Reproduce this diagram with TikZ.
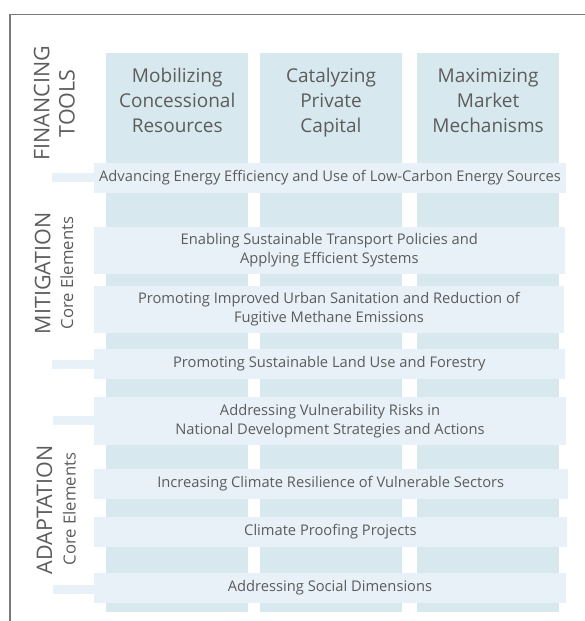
\documentclass[tikz,border=0pt]{standalone}
\usepackage{fontspec}
\setmainfont{Open Sans}
\definecolor{colfill}{HTML}{D8E8EF}
\definecolor{rowfill}{HTML}{E7F1F7}
\definecolor{txt}{HTML}{5C5C5C}
\definecolor{frame}{HTML}{7A7A7A}
\begin{document}
\begin{tikzpicture}[x=1pt,y=-1pt,
  col/.style={fill=colfill},
  stubfill/.style={fill=rowfill},
  band/.style={fill=rowfill, draw=none, rectangle, inner sep=0pt, text=txt,
    font=\fontsize{14.7}{19.5}\selectfont, align=center},
  head/.style={text=txt, font=\fontsize{19}{25}\selectfont, anchor=base, inner sep=0pt},
  side/.style={text=txt, font=\fontsize{21.5}{25}\selectfont, rotate=90, anchor=base, inner sep=0pt},
  sublabel/.style={text=txt, font=\fontsize{16.7}{20}\selectfont, rotate=90, anchor=base, inner sep=0pt},
  frameline/.style={draw=frame, line width=1.2pt}]
\useasboundingbox (0,0) rectangle (585,621);
% frame
\draw[frameline] (10,621) -- (10,14.5) -- (586,14.5);
% columns
\fill[col] (106.3,52.7) rectangle (248.1,611.5);
\fill[col] (260.1,52.7) rectangle (401.9,611.5);
\fill[col] (417.2,52.7) rectangle (559.0,611.5);
% column headers
\node[head] (h1) at (177.2,82.7) {\begin{tabular}[t]{@{}c@{}}Mobilizing\\Concessional\\Resources\end{tabular}};
\node[head] (h2) at (331.0,82.7) {\begin{tabular}[t]{@{}c@{}}Catalyzing\\Private\\Capital\end{tabular}};
\node[head] (h3) at (488.1,82.7) {\begin{tabular}[t]{@{}c@{}}Maximizing\\Market\\Mechanisms\end{tabular}};
% stubs
\fill[stubfill] (51.5,173.3) rectangle (95,182.3);
\fill[stubfill] (51.5,360) rectangle (95,369);
\fill[stubfill] (53,416) rectangle (95,424.7);
\fill[stubfill] (53,585) rectangle (95,593.7);
% rows
\node[band, minimum width=472pt, minimum height=29.4pt] (r1) at (330,178) {\strut Advancing Energy Efficiency and Use of Low-Carbon Energy Sources};
\node[band, minimum width=470.6pt, minimum height=47pt] (r2) at (329.3,250.2) {\strut Enabling Sustainable Transport Policies and\\\strut Applying Efficient Systems};
\node[band, minimum width=470pt, minimum height=46.7pt] (r3) at (329,309.3) {\strut Promoting Improved Urban Sanitation and Reduction of\\\strut Fugitive Methane Emissions};
\node[band, minimum width=470.6pt, minimum height=30pt] (r4) at (329.3,364) {\strut Promoting Sustainable Land Use and Forestry};
\node[band, minimum width=472pt, minimum height=47.4pt] (r5) at (330,421) {\strut Addressing Vulnerability Risks in\\\strut National Development Strategies and Actions};
\node[band, minimum width=473.5pt, minimum height=29.7pt] (r6) at (330.75,483.8) {\strut Increasing Climate Resilience of Vulnerable Sectors};
\node[band, minimum width=472.8pt, minimum height=30pt] (r7) at (330.4,531.7) {\strut Climate Proofing Projects};
\node[band, minimum width=472pt, minimum height=30pt] (r8) at (330,587.7) {\strut Addressing Social Dimensions};
% side labels
\node[side] (fin) at (49.3,103.3) {FINANCING};
\node[side] (tools) at (74.6,103.3) {TOOLS};
\node[side] (mit) at (50.4,273.3) {MITIGATION};
\node[sublabel] (mitce) at (73.0,273.0) {Core Elements};
\node[side] (ada) at (52.2,510) {ADAPTATION};
\node[sublabel] (adace) at (75.5,509) {Core Elements};
\end{tikzpicture}
\end{document}
